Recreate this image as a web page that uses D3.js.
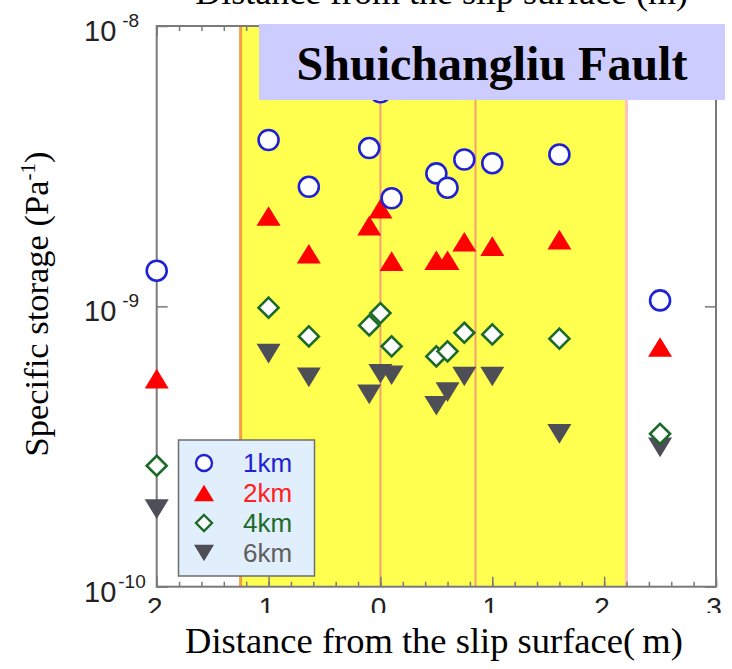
<!DOCTYPE html>
<html>
<head>
<meta charset="utf-8">
<script src="https://cdn.jsdelivr.net/npm/d3@7"></script>
<style>
  html, body { margin: 0; padding: 0; background: #fff; }
  svg { display: block; }
</style>
</head>
<body>
<svg id="chart" width="732" height="669"></svg>
<script>
// Distance from the slip surface (m) for each sampling position
const distances = [-2, -1, -0.64, -0.1, 0, 0.1, 0.5, 0.6, 0.75, 1.0, 1.6, 2.5];

// Specific storage (Pa^-1) at each depth
const storage1km = [1.34e-9, 3.92e-9, 2.67e-9, 3.67e-9, 5.8e-9, 2.43e-9, 2.98e-9, 2.65e-9, 3.34e-9, 3.24e-9, 3.48e-9, 1.05e-9];
const storage2km = [5.52e-10, 2.10e-9, 1.54e-9, 1.94e-9, 2.23e-9, 1.45e-9, 1.46e-9, 1.46e-9, 1.70e-9, 1.64e-9, 1.73e-9, 7.16e-10];
const storage4km = [2.70e-10, 9.89e-10, 7.81e-10, 8.55e-10, 9.46e-10, 7.20e-10, 6.63e-10, 6.91e-10, 8.05e-10, 7.94e-10, 7.67e-10, 3.51e-10];
const storage6km = [1.89e-10, 6.78e-10, 5.58e-10, 4.85e-10, 5.75e-10, 5.68e-10, 4.42e-10, 4.94e-10, 5.62e-10, 5.62e-10, 3.51e-10, 3.14e-10];

const seriesNames = ["1km", "2km", "4km", "6km"];

// Fault zone band and internal boundaries (m)
const zoneExtent = [-1.25, 2.2];
const zoneLines = [-1.25, 0, 0.85, 2.2];

// Axis ticks
const xMajorTicks = [-2, -1, 0, 1, 2, 3];
const xMinorTicks = d3.range(-2, 3.001, 0.2).map(v => Math.round(v * 10) / 10);
const yTicks = [1e-10, 1e-9, 1e-8];
const yTickExponents = ["-10", "-9", "-8"];

const svg = d3.select("#chart");
const plotLeft = 156.7, plotRight = 716, plotTop = 26, plotBottom = 586.7;

const x = d3.scaleLinear().domain([-2, 3]).range([plotLeft, plotRight]);
const y = d3.scaleLog().domain([1e-10, 1e-8]).range([plotBottom, plotTop]);

const serif = "'Liberation Serif', 'Times New Roman', serif";
const sans = "'Liberation Sans', Arial, sans-serif";

// clip for the x tick labels, whose lower part is hidden behind the title panel
svg.append("defs").append("clipPath").attr("id", "xlabel-clip")
  .append("rect").attr("x", 0).attr("y", 590).attr("width", 732).attr("height", 23);

// top axis title, running off the top of the page
svg.append("text")
  .attr("x", 688).attr("y", 4)
  .attr("text-anchor", "end")
  .attr("font-family", serif)
  .attr("font-size", 36)
  .attr("fill", "#000")
  .text("Distance from the slip surface (m)");

// plot background
svg.append("rect")
  .attr("x", plotLeft).attr("y", plotTop)
  .attr("width", plotRight - plotLeft).attr("height", plotBottom - plotTop)
  .attr("fill", "#fff");

// fault zone band
svg.append("rect")
  .attr("x", x(zoneExtent[0])).attr("y", plotTop)
  .attr("width", x(zoneExtent[1]) - x(zoneExtent[0]))
  .attr("height", plotBottom - plotTop)
  .attr("fill", "#ffff50");

const lineStyles = [
  { c: "#f5a040", w: 3 },
  { c: "#f4a075", w: 2 },
  { c: "#f4a075", w: 2 },
  { c: "#ffc0c0", w: 3 }
];
svg.append("g").selectAll("line")
  .data(zoneLines)
  .join("line")
  .attr("x1", d => x(d)).attr("x2", d => x(d))
  .attr("y1", plotTop).attr("y2", plotBottom)
  .attr("stroke", (d, i) => lineStyles[i].c)
  .attr("stroke-width", (d, i) => lineStyles[i].w);

// axes (ticks point inward)
const axisColor = "#7a7a7a";
function styleAxis(g) {
  g.select(".domain").remove();
  g.selectAll(".tick line").attr("stroke", axisColor).attr("stroke-width", 1.5);
  g.selectAll(".tick text").remove();
}
svg.append("g").attr("transform", `translate(0,${plotBottom})`)
  .call(d3.axisBottom(x).tickValues(xMinorTicks).tickSize(-5).tickFormat(""))
  .call(styleAxis);
svg.append("g").attr("transform", `translate(0,${plotBottom})`)
  .call(d3.axisBottom(x).tickValues(xMajorTicks).tickSize(-10).tickFormat(""))
  .call(styleAxis);
svg.append("g").attr("transform", `translate(0,${plotTop})`)
  .call(d3.axisTop(x).tickValues(xMinorTicks).tickSize(-5).tickFormat(""))
  .call(styleAxis);
svg.append("g").attr("transform", `translate(0,${plotTop})`)
  .call(d3.axisTop(x).tickValues(xMajorTicks).tickSize(-10).tickFormat(""))
  .call(styleAxis);
svg.append("g").attr("transform", `translate(${plotLeft},0)`)
  .call(d3.axisLeft(y).tickValues(yTicks).tickSize(-11).tickFormat(""))
  .call(styleAxis);
svg.append("g").attr("transform", `translate(${plotRight},0)`)
  .call(d3.axisRight(y).tickValues(yTicks).tickSize(-11).tickFormat(""))
  .call(styleAxis);

// frame
svg.append("rect")
  .attr("x", plotLeft).attr("y", plotTop)
  .attr("width", plotRight - plotLeft).attr("height", plotBottom - plotTop)
  .attr("fill", "none")
  .attr("stroke", axisColor)
  .attr("stroke-width", 2);

// markers
const markerDefs = {
  "1km": { shape: "circle", stroke: "#1e22d2", fill: "#fff", data: storage1km },
  "2km": { shape: "up", stroke: "none", fill: "#ff0000", data: storage2km },
  "4km": { shape: "diamond", stroke: "#1c6a2a", fill: "#fff", data: storage4km },
  "6km": { shape: "down", stroke: "none", fill: "#4e4e56", data: storage6km }
};

function markerPath(shape, s) {
  // s: half-width of the marker
  const h = s * 0.82;
  if (shape === "up") return `M0,${-h}L${s},${h}L${-s},${h}Z`;
  if (shape === "down") return `M0,${h}L${s},${-h}L${-s},${-h}Z`;
  if (shape === "diamond") return `M0,${-s}L${s},0L0,${s}L${-s},0Z`;
  return null;
}

function drawMarker(g, shape, stroke, fill, size) {
  if (shape === "circle") {
    g.append("circle").attr("r", size.r)
      .attr("fill", fill).attr("stroke", stroke).attr("stroke-width", size.sw);
  } else {
    g.append("path").attr("d", markerPath(shape, shape === "diamond" ? size.d : size.t))
      .attr("fill", fill)
      .attr("stroke", stroke)
      .attr("stroke-width", stroke === "none" ? 0 : size.sw)
      .attr("stroke-linejoin", "miter");
  }
}

const plotSize = { r: 10, t: 12, d: 10, sw: 2.6 };
const drawOrder = ["6km", "4km", "2km", "1km"];
const marks = svg.append("g");
drawOrder.forEach(name => {
  const def = markerDefs[name];
  distances.forEach((d, i) => {
    const g = marks.append("g")
      .attr("transform", `translate(${x(d)},${y(def.data[i])})`);
    drawMarker(g, def.shape, def.stroke, def.fill, plotSize);
  });
});

// title box
svg.append("rect")
  .attr("x", 259).attr("y", 24)
  .attr("width", 466).attr("height", 76)
  .attr("fill", "#ccccff");
svg.append("text")
  .attr("x", 492).attr("y", 80)
  .attr("text-anchor", "middle")
  .attr("font-family", serif)
  .attr("font-weight", "bold")
  .attr("font-size", 48)
  .attr("fill", "#000")
  .text("Shuichangliu Fault");

// legend
const legend = svg.append("g");
legend.append("rect")
  .attr("x", 178.5).attr("y", 440)
  .attr("width", 136).attr("height", 136)
  .attr("fill", "#e1eefc")
  .attr("stroke", "#6e6e6e")
  .attr("stroke-width", 1.5);
const legendColors = { "1km": "#1e22d2", "2km": "#ff2020", "4km": "#1c6a2a", "6km": "#5e5e5e" };
const legendSize = { r: 8, t: 10, d: 8, sw: 2.4 };
seriesNames.forEach((name, i) => {
  const cy = 463 + i * 30;
  const def = markerDefs[name];
  const g = legend.append("g").attr("transform", `translate(204,${cy})`);
  drawMarker(g, def.shape, def.stroke, def.fill, legendSize);
  legend.append("text")
    .attr("x", 243).attr("y", cy + 9)
    .attr("font-family", sans)
    .attr("font-size", 26)
    .attr("fill", legendColors[name])
    .text(name);
});

// y tick labels as powers of ten
yTicks.forEach((t, i) => {
  const ty = y(t);
  const txt = svg.append("text")
    .attr("x", 84).attr("y", ty + 15)
    .attr("font-family", sans)
    .attr("font-size", 29)
    .attr("fill", "#222");
  txt.append("tspan").text("10");
  txt.append("tspan")
    .attr("dx", i === 0 ? 2 : 6)
    .attr("dy", -14)
    .attr("font-size", 19)
    .text(yTickExponents[i]);
});

// x tick labels
svg.append("g")
  .attr("clip-path", "url(#xlabel-clip)")
  .selectAll("text")
  .data(xMajorTicks)
  .join("text")
  .attr("x", d => x(d) - 2)
  .attr("y", 617)
  .attr("text-anchor", "middle")
  .attr("font-family", sans)
  .attr("font-size", 28)
  .attr("fill", "#222")
  .text(d => Math.abs(d));

// x axis title
svg.append("text")
  .attr("x", 434).attr("y", 653)
  .attr("text-anchor", "middle")
  .attr("font-family", serif)
  .attr("font-size", 36.5)
  .attr("fill", "#000")
  .text("Distance from the slip surface(\u2009m)");

// y axis title
const yTitle = svg.append("text")
  .attr("transform", "translate(48,304) rotate(-90)")
  .attr("text-anchor", "middle")
  .attr("font-family", serif)
  .attr("font-size", 34.5)
  .attr("fill", "#000");
yTitle.append("tspan").text("Specific storage (Pa");
yTitle.append("tspan").attr("dy", -13).attr("font-size", 21).text("-1");
yTitle.append("tspan").attr("dy", 13).text(")");
</script>
</body>
</html>
